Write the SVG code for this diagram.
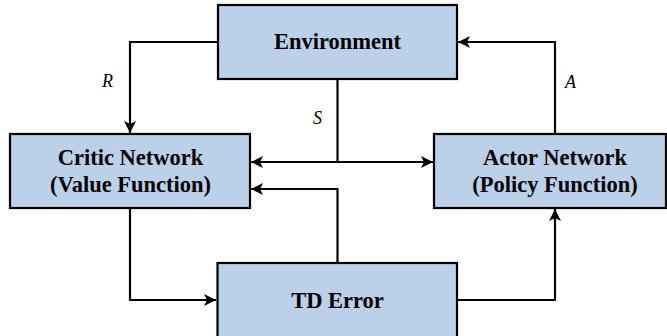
<svg xmlns="http://www.w3.org/2000/svg" width="667" height="336" viewBox="0 0 667 336">
<style>
.box{fill:#bdd0ea;stroke:#000;stroke-width:2.2}
.lbl{font-family:'Liberation Serif','Times New Roman',serif;font-weight:700;font-size:22.5px;text-anchor:middle;fill:#000}
.var{font-family:'Liberation Serif','Times New Roman',serif;font-style:italic;font-size:18px;fill:#000}
.ln{fill:none;stroke:#000;stroke-width:2.2}
</style>
<defs>
<marker id="ah" viewBox="0 0 12 12" refX="12" refY="6" markerWidth="12" markerHeight="12" markerUnits="userSpaceOnUse" orient="auto">
<path d="M0,0 L12,6 L0,12 L3,6 Z" fill="#000"/>
</marker>
</defs>
<rect width="667" height="336" fill="#fff"/>
<g id="connectors">
<path class="ln" d="M218,42 H130 V133" marker-end="url(#ah)"/>
<path class="ln" d="M337.5,79 V162 H251" marker-end="url(#ah)"/>
<path class="ln" d="M337.5,162 H433" marker-end="url(#ah)"/>
<path class="ln" d="M555,134 V42 H458" marker-end="url(#ah)"/>
<path class="ln" d="M130,208 V300 H216" marker-end="url(#ah)"/>
<path class="ln" d="M337.5,263 V189 H251" marker-end="url(#ah)"/>
<path class="ln" d="M457,300 H555 V209" marker-end="url(#ah)"/>
<text class="var" x="102" y="87">R</text>
<text class="var" x="313" y="124">S</text>
<text class="var" x="565" y="88">A</text>
</g>
<g id="environment">
<rect class="box" x="218" y="5" width="239" height="74"/>
<text class="lbl" x="337.5" y="49">Environment</text>
</g>
<g id="critic">
<rect class="box" x="10" y="134" width="240" height="74"/>
<text class="lbl" x="130.5" y="165">Critic Network</text>
<text class="lbl" x="130.5" y="192">(Value Function)</text>
</g>
<g id="actor">
<rect class="box" x="434" y="134" width="232" height="74"/>
<text class="lbl" x="555" y="165">Actor Network</text>
<text class="lbl" x="555" y="192">(Policy Function)</text>
</g>
<g id="tderror">
<rect class="box" x="217.5" y="263" width="239.5" height="76"/>
<text class="lbl" x="337.5" y="308">TD Error</text>
</g>
</svg>
